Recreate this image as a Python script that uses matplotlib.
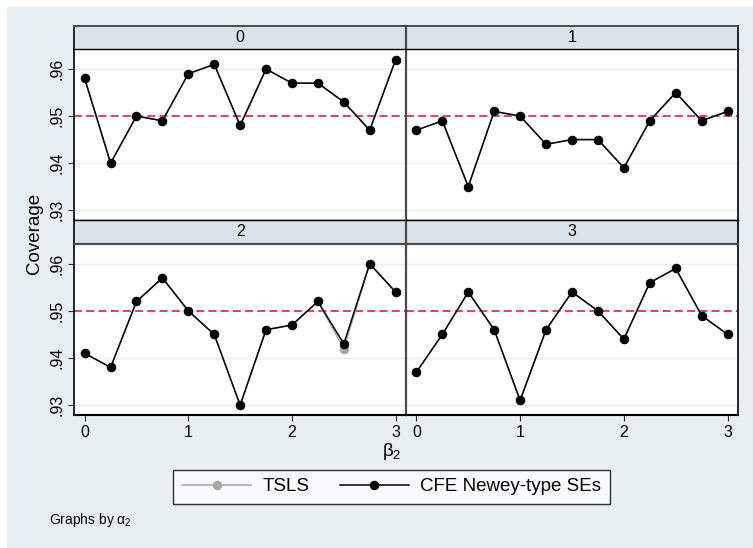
#!/usr/bin/env python3

"""
Coverage of TSLS vs. CFE Newey-type SEs, by alpha_2 panel.
"""

import matplotlib.pyplot as plt
from matplotlib.patches import Rectangle
from matplotlib.lines import Line2D

beta2 = [0, 0.25, 0.5, 0.75, 1, 1.25, 1.5, 1.75, 2, 2.25, 2.5, 2.75, 3]
alpha2 = ["0", "1", "2", "3"]

cfe_0 = [0.958, 0.940, 0.950, 0.949, 0.959, 0.961, 0.948, 0.960, 0.957, 0.957, 0.953, 0.947, 0.962]
cfe_1 = [0.947, 0.949, 0.935, 0.951, 0.950, 0.944, 0.945, 0.945, 0.939, 0.949, 0.955, 0.949, 0.951]
cfe_2 = [0.941, 0.938, 0.952, 0.957, 0.950, 0.945, 0.930, 0.946, 0.947, 0.952, 0.943, 0.960, 0.954]
cfe_3 = [0.937, 0.945, 0.954, 0.946, 0.931, 0.946, 0.954, 0.950, 0.944, 0.956, 0.959, 0.949, 0.945]

tsls_0 = [0.958, 0.940, 0.950, 0.949, 0.959, 0.961, 0.948, 0.960, 0.957, 0.957, 0.953, 0.947, 0.962]
tsls_1 = [0.947, 0.949, 0.935, 0.951, 0.950, 0.944, 0.945, 0.945, 0.939, 0.949, 0.955, 0.949, 0.951]
tsls_2 = [0.941, 0.938, 0.952, 0.957, 0.950, 0.945, 0.930, 0.946, 0.947, 0.952, 0.942, 0.960, 0.954]
tsls_3 = [0.937, 0.945, 0.954, 0.946, 0.931, 0.946, 0.954, 0.950, 0.944, 0.956, 0.959, 0.949, 0.945]

nominal = 0.95
yticks = [0.93, 0.94, 0.95, 0.96]
ytick_labels = [".93", ".94", ".95", ".96"]
xticks = [0, 1, 2, 3]

W, H = 753, 548
BG = "#e8eff2"
STRIP = "#d9e4ea"
GRID = "#e6eef0"
DARK = "#4a4a4a"


def rect(x0, y0, x1, y1):
    # pixel box (top-left origin) -> figure fraction
    return [x0 / W, 1 - y1 / H, (x1 - x0) / W, (y1 - y0) / H]


def main():
    plt.rcParams["font.family"] = ["Liberation Sans", "DejaVu Sans"]
    plt.rcParams["mathtext.fontset"] = "custom"
    plt.rcParams["mathtext.rm"] = "Liberation Sans"
    plt.rcParams["mathtext.it"] = "Liberation Sans"
    plt.rcParams["mathtext.bf"] = "Liberation Sans:bold"

    fig = plt.figure(figsize=(W / 100, H / 100), dpi=100)
    fig.patches.append(Rectangle((7 / W, 0), 1 - 7 / W, 1 - 7 / H,
                                 transform=fig.transFigure, color=BG, zorder=-10))

    cfe = [cfe_0, cfe_1, cfe_2, cfe_3]
    tsls = [tsls_0, tsls_1, tsls_2, tsls_3]

    cols = [(74.3, 406), (406, 738)]
    rows = [(26, 49.3, 220), (220, 244, 415)]

    for i in range(4):
        r, c = divmod(i, 2)
        x0, x1 = cols[c]
        stop, ptop, pbot = rows[r]

        ax = fig.add_axes(rect(x0, ptop, x1, pbot))
        ax.set_facecolor("white")
        ax.plot(beta2, tsls[i], color="#a6a6a6", marker="o", markersize=5.8,
                linewidth=1.1, zorder=3)
        ax.plot(beta2, cfe[i], color="black", marker="o", markersize=5.8,
                linewidth=1.1, zorder=4)
        ax.axhline(nominal, color="#d6143c", linestyle=(0, (5.2, 2.8)),
                   linewidth=1.1, zorder=2)
        ax.set_xlim(-0.1, 3.1)
        ax.set_ylim(0.9279, 0.9642)
        ax.set_yticks(yticks)
        ax.set_xticks(xticks)
        ax.grid(axis="y", color=GRID, linewidth=1.0, zorder=1)
        ax.set_axisbelow(True)

        if c == 0:
            ax.set_yticklabels(ytick_labels, rotation=90, va="center")
            ax.tick_params(axis="y", direction="out", length=4, width=0.8,
                           color="#333333", labelsize=11.5, pad=3)
        else:
            ax.tick_params(axis="y", length=0, labelleft=False)
        if r == 1:
            ax.tick_params(axis="x", direction="out", length=4, width=0.8,
                           color="#333333", labelsize=11.5, pad=3.5)
        else:
            ax.tick_params(axis="x", length=0, labelbottom=False)

        ax.spines["top"].set_visible(False)
        ax.spines["bottom"].set_color("black")
        ax.spines["bottom"].set_linewidth(1.5 if r == 1 else 1.0)
        if c == 0:
            ax.spines["left"].set_color("black")
            ax.spines["left"].set_linewidth(1.2)
            ax.spines["right"].set_visible(False)
        else:
            ax.spines["left"].set_color(DARK)
            ax.spines["left"].set_linewidth(1.6)
            ax.spines["right"].set_color("black")
            ax.spines["right"].set_linewidth(1.2)

        sax = fig.add_axes(rect(x0, stop, x1, ptop))
        sax.set_facecolor(STRIP)
        sax.set_xticks([])
        sax.set_yticks([])
        sax.spines["top"].set_color(DARK if r == 0 else "black")
        sax.spines["top"].set_linewidth(1.4 if r == 0 else 1.0)
        sax.spines["bottom"].set_color(DARK if r == 1 else "black")
        sax.spines["bottom"].set_linewidth(1.6 if r == 1 else 1.0)
        if c == 0:
            sax.spines["left"].set_color("black")
            sax.spines["left"].set_linewidth(1.2)
            sax.spines["right"].set_visible(False)
        else:
            sax.spines["left"].set_color(DARK)
            sax.spines["left"].set_linewidth(1.6)
            sax.spines["right"].set_color("black")
            sax.spines["right"].set_linewidth(1.2)
        sax.text(0.5, 0.5, alpha2[i], transform=sax.transAxes,
                 ha="center", va="center", fontsize=11.5)

    # axis titles
    fig.text(35 / W, 1 - 233 / H, "Coverage", rotation=90,
             ha="center", va="center", fontsize=13.5)
    fig.text(392 / W, 1 - 452 / H, r"$\beta_2$", ha="center", va="center",
             fontsize=13.5)

    # legend
    handles = [
        Line2D([], [], color="#a6a6a6", marker="o", markersize=5.8, linewidth=1.1),
        Line2D([], [], color="black", marker="o", markersize=5.8, linewidth=1.1),
    ]
    leg = fig.legend(handles, ["TSLS", "CFE Newey-type SEs"], ncol=2,
                     loc="center", bbox_to_anchor=(391.5 / W, 1 - 486.5 / H),
                     frameon=True, fancybox=False, fontsize=13.5,
                     handlelength=3.7, handletextpad=0.6, columnspacing=1.6,
                     borderpad=0.45, borderaxespad=0)
    leg.get_frame().set_edgecolor("black")
    leg.get_frame().set_linewidth(1.0)
    leg.get_frame().set_facecolor("white")

    fig.text(49 / W, 1 - 520 / H, r"Graphs by $\alpha_2$", ha="left",
             va="center", fontsize=10)

    fig.savefig("out.png", dpi=100)


if __name__ == "__main__":
    main()
